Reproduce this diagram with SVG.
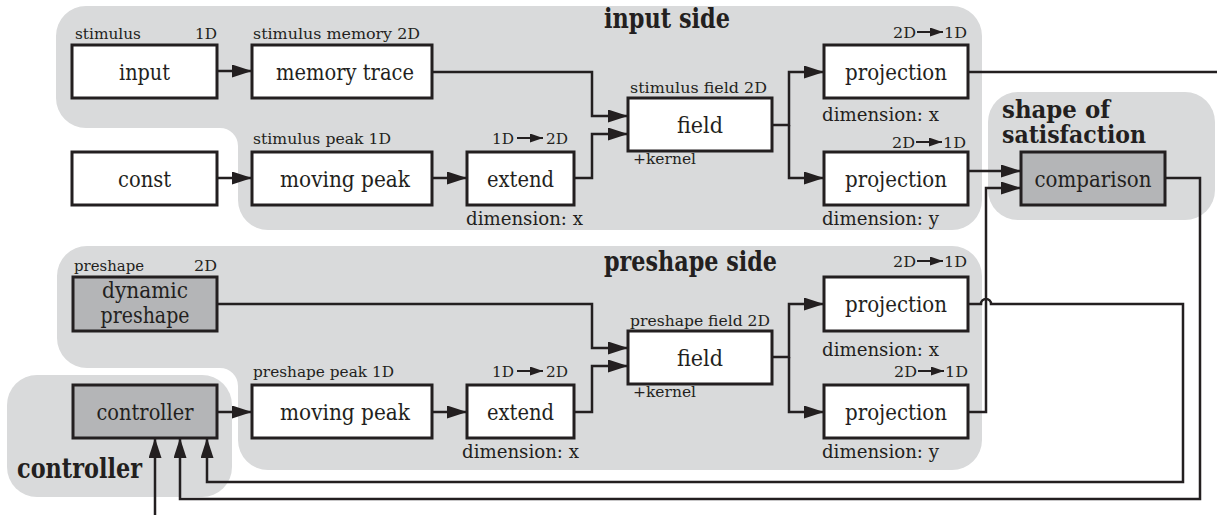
<svg xmlns="http://www.w3.org/2000/svg" width="1217" height="515" viewBox="0 0 1217 515">
<style>
.region{fill:#d9dadb;stroke:none}
.box{fill:#ffffff;stroke:#231f20;stroke-width:3}
.gbox{fill:#b4b5b7;stroke:#231f20;stroke-width:3}
text{font-family:'DejaVu Serif','Liberation Serif',serif;fill:#231f20}
.in{font-size:22px;text-anchor:middle}
.lab{font-size:15px}
.dim{font-size:19px}
.hd{font-size:27px;font-weight:bold}
.hs{font-size:25px;font-weight:bold}
.con{fill:none;stroke:#231f20;stroke-width:2.5}
.sa{fill:none;stroke:#231f20;stroke-width:2}
</style>
<defs>
<marker id="ah" markerUnits="userSpaceOnUse" markerWidth="20" markerHeight="13" refX="20" refY="6.5" orient="auto">
<path d="M0,0 L20,6.5 L0,13 z" fill="#231f20"/>
</marker>
<marker id="sah" markerUnits="userSpaceOnUse" markerWidth="13" markerHeight="9" refX="13" refY="4.5" orient="auto">
<path d="M0,0 L13,4.5 L0,9 z" fill="#231f20"/>
</marker>
</defs>

<g id="regions">
<path class="region" d="M86,6 H952 A30,30 0 0 1 982,36 V200 A30,30 0 0 1 952,230 H268 A30,30 0 0 1 238,200 V146 A18,18 0 0 0 220,128 H86 A30,30 0 0 1 56,98 V36 A30,30 0 0 1 86,6 Z"/>
<path class="region" d="M87,246 H952 A30,30 0 0 1 982,276 V440 A30,30 0 0 1 952,470 H268 A30,30 0 0 1 238,440 V386 A18,18 0 0 0 220,368 H87 A30,30 0 0 1 57,338 V276 A30,30 0 0 1 87,246 Z"/>
<rect class="region" x="988" y="92" width="227" height="128" rx="30" ry="30"/>
<rect class="region" x="7" y="375" width="225" height="122" rx="30" ry="30"/>
<text class="hd" x="604" y="28" textLength="126" lengthAdjust="spacingAndGlyphs">input side</text>
<text class="hd" x="604" y="271" textLength="173" lengthAdjust="spacingAndGlyphs">preshape side</text>
<text class="hs" x="1002" y="118" textLength="108" lengthAdjust="spacingAndGlyphs">shape of</text>
<text class="hs" x="1002" y="143" textLength="144" lengthAdjust="spacingAndGlyphs">satisfaction</text>
<text class="hd" x="17" y="478" textLength="125" lengthAdjust="spacingAndGlyphs">controller</text>
</g>

<g id="connectors">
<path class="con" d="M217,71 H252" marker-end="url(#ah)"/>
<path class="con" d="M432,72 H592 V116 H628" marker-end="url(#ah)"/>
<path class="con" d="M217,178 H252" marker-end="url(#ah)"/>
<path class="con" d="M432,178 H467" marker-end="url(#ah)"/>
<path class="con" d="M574,178 H592 V134 H628" marker-end="url(#ah)"/>
<path class="con" d="M772,125 H789 V72 H824" marker-end="url(#ah)"/>
<path class="con" d="M789,125 V178 H824" marker-end="url(#ah)"/>
<path class="con" d="M968,72 H1217"/>
<path class="con" d="M968,171 H1021" marker-end="url(#ah)"/>
<path class="con" d="M968,412 H986 V188 H1021" marker-end="url(#ah)"/>
<path class="con" d="M1165,178 H1200 V499 H180 V438" marker-end="url(#ah)"/>
<path class="con" d="M968,304 H981 A5,5 0 0 1 991,304 H1183 V482 H207 V438" marker-end="url(#ah)"/>
<path class="con" d="M155,515 V438" marker-end="url(#ah)"/>
<path class="con" d="M217,304 H592 V348 H628" marker-end="url(#ah)"/>
<path class="con" d="M217,412 H252" marker-end="url(#ah)"/>
<path class="con" d="M432,412 H467" marker-end="url(#ah)"/>
<path class="con" d="M574,412 H592 V366 H628" marker-end="url(#ah)"/>
<path class="con" d="M772,357 H789 V304 H824" marker-end="url(#ah)"/>
<path class="con" d="M789,357 V412 H824" marker-end="url(#ah)"/>
</g>

<g id="input">
<rect class="box" x="72" y="45" width="145" height="53"/>
<text class="in" x="144.5" y="80" textLength="51" lengthAdjust="spacingAndGlyphs">input</text>
<text class="lab" x="75" y="39" textLength="66" lengthAdjust="spacingAndGlyphs">stimulus</text>
<text class="lab" x="195" y="39" textLength="22" lengthAdjust="spacingAndGlyphs">1D</text>
</g>
<g id="memory_trace">
<rect class="box" x="252" y="45" width="180" height="53"/>
<text class="in" x="345" y="80" textLength="138" lengthAdjust="spacingAndGlyphs">memory trace</text>
<text class="lab" x="253" y="39" textLength="167" lengthAdjust="spacingAndGlyphs">stimulus memory 2D</text>
</g>
<g id="const">
<rect class="box" x="72" y="152" width="145" height="53"/>
<text class="in" x="144.5" y="187" textLength="53" lengthAdjust="spacingAndGlyphs">const</text>
</g>
<g id="stimulus_moving_peak">
<rect class="box" x="252" y="152" width="180" height="53"/>
<text class="in" x="345" y="187" textLength="130" lengthAdjust="spacingAndGlyphs">moving peak</text>
<text class="lab" x="253" y="144" textLength="138" lengthAdjust="spacingAndGlyphs">stimulus peak 1D</text>
</g>
<g id="stimulus_extend">
<rect class="box" x="467" y="152" width="107" height="53"/>
<text class="in" x="520.5" y="187" textLength="67" lengthAdjust="spacingAndGlyphs">extend</text>
<text class="lab" x="492" y="144" textLength="22" lengthAdjust="spacingAndGlyphs">1D</text>
<path class="sa" d="M517,138 H543" marker-end="url(#sah)"/>
<text class="lab" x="546" y="144" textLength="22" lengthAdjust="spacingAndGlyphs">2D</text>
<text class="dim" x="466" y="225" textLength="117" lengthAdjust="spacingAndGlyphs">dimension: x</text>
</g>
<g id="stimulus_field">
<rect class="box" x="628" y="98" width="144" height="53"/>
<text class="in" x="700" y="133" textLength="46" lengthAdjust="spacingAndGlyphs">field</text>
<text class="lab" x="630" y="93" textLength="137" lengthAdjust="spacingAndGlyphs">stimulus field 2D</text>
<text class="lab" x="633" y="164" textLength="63" lengthAdjust="spacingAndGlyphs">+kernel</text>
</g>
<g id="stimulus_projection_x">
<rect class="box" x="824" y="45" width="144" height="53"/>
<text class="in" x="896" y="80" textLength="102" lengthAdjust="spacingAndGlyphs">projection</text>
<text class="lab" x="893" y="38" textLength="23" lengthAdjust="spacingAndGlyphs">2D</text>
<path class="sa" d="M917,32 H943" marker-end="url(#sah)"/>
<text class="lab" x="944" y="38" textLength="23" lengthAdjust="spacingAndGlyphs">1D</text>
<text class="dim" x="822" y="121" textLength="117" lengthAdjust="spacingAndGlyphs">dimension: x</text>
</g>
<g id="stimulus_projection_y">
<rect class="box" x="824" y="152" width="144" height="53"/>
<text class="in" x="896" y="187" textLength="102" lengthAdjust="spacingAndGlyphs">projection</text>
<text class="lab" x="892" y="148" textLength="23" lengthAdjust="spacingAndGlyphs">2D</text>
<path class="sa" d="M916,142 H942" marker-end="url(#sah)"/>
<text class="lab" x="943" y="148" textLength="23" lengthAdjust="spacingAndGlyphs">1D</text>
<text class="dim" x="822" y="225" textLength="117" lengthAdjust="spacingAndGlyphs">dimension: y</text>
</g>
<g id="comparison">
<rect class="gbox" x="1021" y="152" width="144" height="53"/>
<text class="in" x="1093" y="187" textLength="117" lengthAdjust="spacingAndGlyphs">comparison</text>
</g>

<g id="dynamic_preshape">
<rect class="gbox" x="73" y="277" width="144" height="54"/>
<text class="in" x="145" y="298" textLength="86" lengthAdjust="spacingAndGlyphs">dynamic</text>
<text class="in" x="145" y="323" textLength="89" lengthAdjust="spacingAndGlyphs">preshape</text>
<text class="lab" x="74" y="271" textLength="70" lengthAdjust="spacingAndGlyphs">preshape</text>
<text class="lab" x="194" y="271" textLength="23" lengthAdjust="spacingAndGlyphs">2D</text>
</g>
<g id="controller">
<rect class="gbox" x="73" y="385" width="144" height="53"/>
<text class="in" x="145" y="420" textLength="97" lengthAdjust="spacingAndGlyphs">controller</text>
</g>
<g id="preshape_moving_peak">
<rect class="box" x="252" y="385" width="180" height="53"/>
<text class="in" x="345" y="420" textLength="130" lengthAdjust="spacingAndGlyphs">moving peak</text>
<text class="lab" x="253" y="377" textLength="141" lengthAdjust="spacingAndGlyphs">preshape peak 1D</text>
</g>
<g id="preshape_extend">
<rect class="box" x="467" y="385" width="107" height="53"/>
<text class="in" x="520.5" y="420" textLength="67" lengthAdjust="spacingAndGlyphs">extend</text>
<text class="lab" x="492" y="377" textLength="22" lengthAdjust="spacingAndGlyphs">1D</text>
<path class="sa" d="M517,371 H543" marker-end="url(#sah)"/>
<text class="lab" x="546" y="377" textLength="22" lengthAdjust="spacingAndGlyphs">2D</text>
<text class="dim" x="462" y="458" textLength="117" lengthAdjust="spacingAndGlyphs">dimension: x</text>
</g>
<g id="preshape_field">
<rect class="box" x="628" y="331" width="144" height="53"/>
<text class="in" x="700" y="366" textLength="46" lengthAdjust="spacingAndGlyphs">field</text>
<text class="lab" x="630" y="326" textLength="140" lengthAdjust="spacingAndGlyphs">preshape field 2D</text>
<text class="lab" x="633" y="397" textLength="63" lengthAdjust="spacingAndGlyphs">+kernel</text>
</g>
<g id="preshape_projection_x">
<rect class="box" x="824" y="277" width="144" height="54"/>
<text class="in" x="896" y="312" textLength="102" lengthAdjust="spacingAndGlyphs">projection</text>
<text class="lab" x="893" y="267" textLength="23" lengthAdjust="spacingAndGlyphs">2D</text>
<path class="sa" d="M917,261 H943" marker-end="url(#sah)"/>
<text class="lab" x="944" y="267" textLength="23" lengthAdjust="spacingAndGlyphs">1D</text>
<text class="dim" x="822" y="356" textLength="117" lengthAdjust="spacingAndGlyphs">dimension: x</text>
</g>
<g id="preshape_projection_y">
<rect class="box" x="824" y="385" width="144" height="53"/>
<text class="in" x="896" y="420" textLength="102" lengthAdjust="spacingAndGlyphs">projection</text>
<text class="lab" x="894" y="377" textLength="23" lengthAdjust="spacingAndGlyphs">2D</text>
<path class="sa" d="M918,371 H944" marker-end="url(#sah)"/>
<text class="lab" x="945" y="377" textLength="23" lengthAdjust="spacingAndGlyphs">1D</text>
<text class="dim" x="822" y="458" textLength="117" lengthAdjust="spacingAndGlyphs">dimension: y</text>
</g>
</svg>
